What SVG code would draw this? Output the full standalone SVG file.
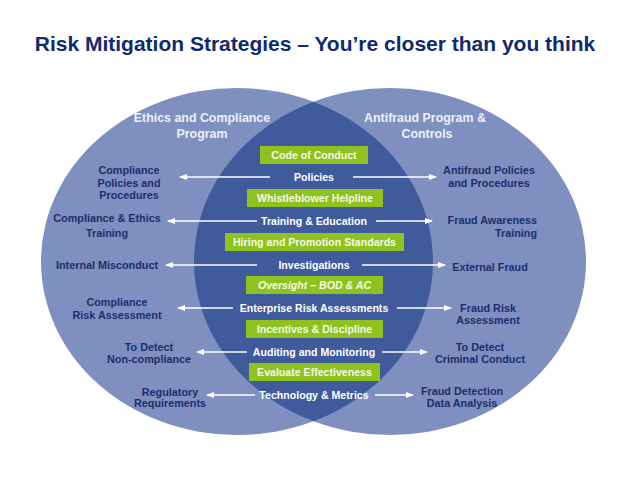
<svg xmlns="http://www.w3.org/2000/svg" width="638" height="479" viewBox="0 0 638 479">
<style>
.title{font-family:"Liberation Sans",Arial,sans-serif;font-weight:bold;font-size:21px;fill:#0f2a6e}
.ctitle{font-family:"Liberation Sans",Arial,sans-serif;font-weight:bold;font-size:12.4px;fill:#eef1f8;text-anchor:middle}
.lbl{font-family:"Liberation Sans",Arial,sans-serif;font-weight:bold;font-size:10.8px;fill:#1b2f6c;text-anchor:middle}
.end{text-anchor:end}
.in{font-family:"Liberation Sans",Arial,sans-serif;font-weight:bold;font-size:10.6px;fill:#ffffff;text-anchor:middle}
.gb{fill:#8fc21f}
.gt{font-family:"Liberation Sans",Arial,sans-serif;font-weight:bold;font-size:10.6px;fill:#f4f9e8;text-anchor:middle}
.ar{stroke:#ffffff;stroke-width:1.4;fill:none;marker-end:url(#ah)}
.outer{fill:#7f90c0}
.lens{fill:#3f5b9b}
</style>
<defs>
<marker id="ah" viewBox="0 0 8 6" refX="7" refY="3" markerWidth="8" markerHeight="6" markerUnits="userSpaceOnUse" orient="auto">
<path d="M0,0 L8,3 L0,6 Z" fill="#ffffff"/>
</marker>
<clipPath id="leftClip"><ellipse cx="237" cy="261.5" rx="196" ry="173.5"/></clipPath>
</defs>
<rect width="638" height="479" fill="#ffffff"/>
<text class="title" x="315" y="51" text-anchor="middle">Risk Mitigation Strategies – You’re closer than you think</text>

<g id="ethics-circle">
<ellipse class="outer" cx="237" cy="261.5" rx="196" ry="173.5"/>
</g>
<g id="antifraud-circle">
<ellipse class="outer" cx="390" cy="261.5" rx="196" ry="173.5"/>
</g>
<g id="overlap">
<ellipse class="lens" cx="390" cy="261.5" rx="196" ry="173.5" clip-path="url(#leftClip)"/>
</g>

<g id="ethics-title">
<text class="ctitle" x="202" y="122">Ethics and Compliance</text>
<text class="ctitle" x="202" y="138">Program</text>
</g>
<g id="antifraud-title">
<text class="ctitle" x="425" y="122">Antifraud Program &amp;</text>
<text class="ctitle" x="427" y="138">Controls</text>
</g>

<g id="code-of-conduct"><rect class="gb" x="260" y="146" width="108" height="18"/><text class="gt" x="314" y="159">Code of Conduct</text></g>
<g id="policies"><text class="in" x="314" y="181">Policies</text></g>
<g id="whistleblower"><rect class="gb" x="247" y="189" width="136" height="18"/><text class="gt" x="315" y="202">Whistleblower Helpline</text></g>
<g id="training"><text class="in" x="314" y="225">Training &amp; Education</text></g>
<g id="hiring"><rect class="gb" x="225" y="233" width="179" height="18"/><text class="gt" x="314.5" y="246">Hiring and Promotion Standards</text></g>
<g id="investigations"><text class="in" x="314" y="269">Investigations</text></g>
<g id="oversight"><rect class="gb" x="246" y="276" width="137" height="18"/><text class="gt" x="314.5" y="289" font-style="italic">Oversight – BOD &amp; AC</text></g>
<g id="enterprise-risk"><text class="in" x="314" y="312">Enterprise Risk Assessments</text></g>
<g id="incentives"><rect class="gb" x="246" y="320" width="137" height="18"/><text class="gt" x="314.5" y="333">Incentives &amp; Discipline</text></g>
<g id="auditing"><text class="in" x="314" y="356">Auditing and Monitoring</text></g>
<g id="evaluate"><rect class="gb" x="249" y="363" width="131" height="18"/><text class="gt" x="314.5" y="376">Evaluate Effectiveness</text></g>
<g id="technology"><text class="in" x="314" y="399">Technology &amp; Metrics</text></g>

<g id="compliance-policies"><text class="lbl" x="129" y="174">Compliance</text><text class="lbl" x="129" y="187">Policies and</text><text class="lbl" x="129" y="199">Procedures</text></g>
<g id="compliance-training"><text class="lbl" x="107" y="222">Compliance &amp; Ethics</text><text class="lbl" x="107" y="237">Training</text></g>
<g id="internal-misconduct"><text class="lbl" x="107" y="269">Internal Misconduct</text></g>
<g id="compliance-risk"><text class="lbl" x="117" y="306">Compliance</text><text class="lbl" x="117" y="319">Risk Assessment</text></g>
<g id="noncompliance"><text class="lbl" x="149" y="351">To Detect</text><text class="lbl" x="149" y="363">Non-compliance</text></g>
<g id="regulatory"><text class="lbl" x="170" y="396">Regulatory</text><text class="lbl" x="170" y="407">Requirements</text></g>

<g id="antifraud-policies"><text class="lbl" x="489" y="174">Antifraud Policies</text><text class="lbl" x="489" y="187">and Procedures</text></g>
<g id="fraud-awareness"><text class="lbl end" x="537" y="224">Fraud Awareness</text><text class="lbl end" x="537" y="237">Training</text></g>
<g id="external-fraud"><text class="lbl" x="490" y="271">External Fraud</text></g>
<g id="fraud-risk"><text class="lbl" x="488" y="312">Fraud Risk</text><text class="lbl" x="488" y="324">Assessment</text></g>
<g id="criminal-conduct"><text class="lbl" x="480" y="351">To Detect</text><text class="lbl" x="480" y="363">Criminal Conduct</text></g>
<g id="fraud-detection"><text class="lbl" x="462" y="395">Fraud Detection</text><text class="lbl" x="462" y="407">Data Analysis</text></g>

<g id="connectors">
<line class="ar" x1="270" y1="177" x2="180" y2="177"/>
<line class="ar" x1="353" y1="177" x2="436" y2="177"/>
<line class="ar" x1="257" y1="221" x2="168" y2="221"/>
<line class="ar" x1="376" y1="221" x2="432" y2="221"/>
<line class="ar" x1="257" y1="265" x2="166" y2="265"/>
<line class="ar" x1="362" y1="265" x2="445" y2="265"/>
<line class="ar" x1="233" y1="308" x2="178" y2="308"/>
<line class="ar" x1="397" y1="308" x2="451" y2="308"/>
<line class="ar" x1="247" y1="352" x2="197" y2="352"/>
<line class="ar" x1="382" y1="352" x2="427" y2="352"/>
<line class="ar" x1="255" y1="395" x2="207" y2="395"/>
<line class="ar" x1="375" y1="395" x2="413" y2="395"/>
</g>
</svg>
